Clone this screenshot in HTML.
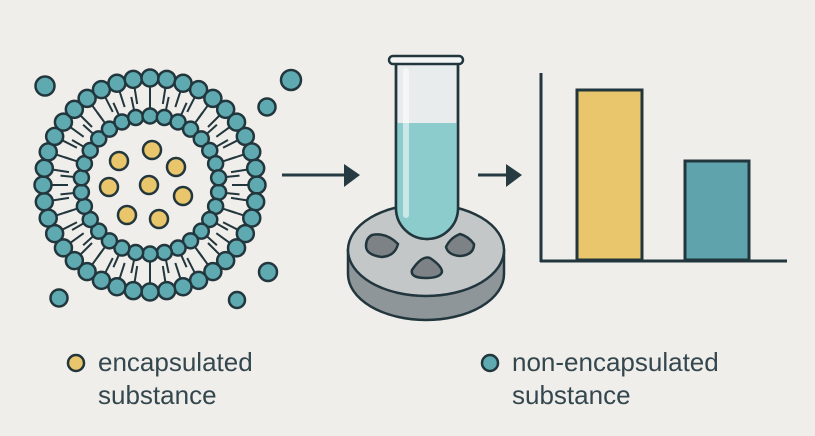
<!DOCTYPE html>
<html><head><meta charset="utf-8"><style>
html,body{margin:0;padding:0;background:#f0eeea;}
svg{display:block}
text{font-family:"Liberation Sans",sans-serif;fill:#34474e;font-size:26px}
</style></head><body>
<svg id="s" width="815" height="436" viewBox="0 0 815 436" xmlns="http://www.w3.org/2000/svg">
<rect width="815" height="436" fill="#f0eeea"/>
<g id="lipo" stroke="#22363d" stroke-width="2.5"></g>
<g stroke="#22363d" stroke-width="2.5" fill="#e9c66b">
<circle cx="152" cy="150" r="9"/><circle cx="119" cy="161" r="9"/><circle cx="176" cy="167" r="9"/>
<circle cx="109" cy="187" r="9"/><circle cx="149" cy="185" r="9"/><circle cx="183" cy="196" r="9"/>
<circle cx="127" cy="215" r="9"/><circle cx="159" cy="219" r="9"/>
</g>
<g stroke="#22363d" stroke-width="2.5" fill="#5fa9b0">
<circle cx="45" cy="86" r="9.5"/><circle cx="291" cy="80" r="10"/><circle cx="267" cy="107" r="8.5"/>
<circle cx="59" cy="298" r="8.5"/><circle cx="268" cy="272" r="9"/><circle cx="237" cy="300" r="8"/>
</g>
<g stroke="#263a42" stroke-width="3" fill="#263a42">
<line x1="282" y1="175" x2="346" y2="175"/>
<polygon points="344,164 360,175 344,187" stroke="none"/>
<line x1="478" y1="175" x2="508" y2="175"/>
<polygon points="506,164 522,175 506,187" stroke="none"/>
</g>
<g stroke="#22363d" stroke-width="2.5">
<path d="M348,250 L348,274 A78,46 0 0 0 504,274 L504,250 Z" fill="#8f9699"/>
<ellipse cx="426" cy="250" rx="78" ry="46" fill="#c3c7c8"/>
<path d="M372,235 Q386,232 398,244 Q395,256 382,257 Q366,255 366,246 Q366,238 372,235Z" fill="#7c8285"/>
<path d="M460,234 Q468,236 474,244 Q474,255 460,256 Q448,255 446,247 Q450,238 460,234Z" fill="#7c8285"/>
<path d="M412,270 Q422,255 430,258 Q442,266 442,272 Q440,278 426,278 Q410,278 412,270Z" fill="#7c8285"/>
</g>
<g stroke="#22363d" stroke-width="2.5">
<path d="M396,62 L396,208 A31,31 0 0 0 458,208 L458,62 Z" fill="#e8ecec"/>
<path d="M397,123 L457,123 L457,208 A30,30 0 0 1 397,208 Z" fill="#8ccccc" stroke="none"/>
<path d="M396,62 L396,208 A31,31 0 0 0 458,208 L458,62" fill="none"/>
<rect x="403" y="68" width="6" height="150" rx="3" fill="#ffffff" opacity="0.55" stroke="none"/>
<rect x="389" y="56" width="74" height="8" rx="4" fill="#f4f6f6"/>
</g>
<g stroke="#22363d" stroke-width="3">
<rect x="577" y="90" width="65" height="170" fill="#e9c66b"/>
<rect x="685" y="161" width="64" height="99" fill="#5fa3ac"/>
<line x1="541" y1="73" x2="541" y2="262"/>
<line x1="540" y1="261" x2="787" y2="261"/>
</g>
<circle cx="76" cy="363" r="8" fill="#e9c66b" stroke="#22363d" stroke-width="2.5"/>
<text x="98" y="371">encapsulated</text>
<text x="98" y="404">substance</text>
<circle cx="490" cy="363" r="8" fill="#5fa9b0" stroke="#22363d" stroke-width="2.5"/>
<text x="512" y="371">non-encapsulated</text>
<text x="512" y="404">substance</text>
</svg>
<script>
(function(){
var g=document.getElementById('lipo'),cx=150,cy=185,s='';
var n1=40,n2=30;
for(var i=0;i<n1;i++){var a=i/n1*2*Math.PI;var c=Math.cos(a),si=Math.sin(a);
s+='<line x1="'+(cx+c*99)+'" y1="'+(cy+si*99)+'" x2="'+(cx+c*82)+'" y2="'+(cy+si*82)+'" stroke-width="2"/>';}
for(var i=0;i<n2;i++){var a=(i+0.5)/n2*2*Math.PI;var c=Math.cos(a),si=Math.sin(a);
s+='<line x1="'+(cx+c*76)+'" y1="'+(cy+si*76)+'" x2="'+(cx+c*90)+'" y2="'+(cy+si*90)+'" stroke-width="2"/>';}
for(var i=0;i<n1;i++){var a=i/n1*2*Math.PI;
s+='<circle cx="'+(cx+Math.cos(a)*107)+'" cy="'+(cy+Math.sin(a)*107)+'" r="8.5" fill="#5fa9b0"/>';}
for(var i=0;i<n2;i++){var a=(i+0.5)/n2*2*Math.PI;
s+='<circle cx="'+(cx+Math.cos(a)*69)+'" cy="'+(cy+Math.sin(a)*69)+'" r="7.5" fill="#5fa9b0"/>';}
g.innerHTML=s;
})();
</script>
</body></html>
